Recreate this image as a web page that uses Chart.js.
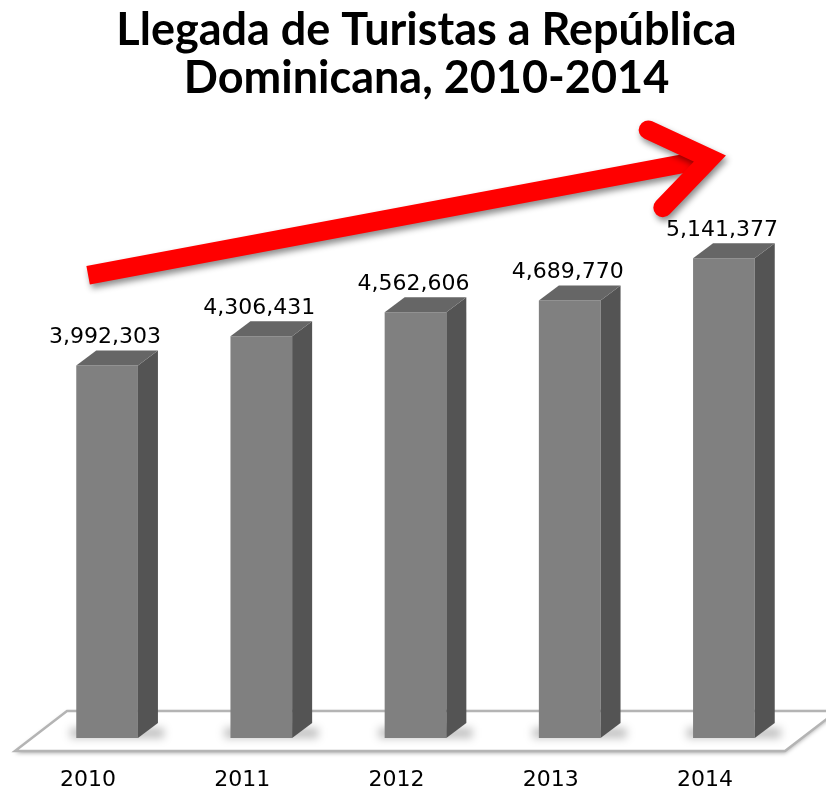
<!DOCTYPE html>
<html>
<head>
<meta charset="utf-8">
<script src="https://cdn.jsdelivr.net/npm/chart.js@4.4.1/dist/chart.umd.min.js"></script>
<style>
html,body{margin:0;padding:0;background:#fff}
#wrap{width:826px;height:789px}
</style>
</head>
<body>
<div id="wrap"><canvas id="chart"></canvas></div>
<script>
// ---------- DATA ----------
const years = ["2010","2011","2012","2013","2014"];
const arrivals = [3992303,4306431,4562606,4689770,5141377];
const titleLines = ["Llegada de Turistas a República","Dominicana, 2010-2014"];

// ---------- LOOK ----------
const frontColor = "#808080";
const sideColor = "#545454";
const topColor = "#666666";
const depthX = 20, depthY = 15;
const labelFont = "22px 'DejaVu Sans'";

function fmt(v){
    return v.toLocaleString("en-US");
}

// ---------- 3D BARS + FLOOR + ARROW ----------
const bar3d = {
    id:"bar3d",
    afterLayout(chart){
        // title sits a bit right of centre in the original
        if(chart.titleBlock){
            chart.titleBlock.left += 11;
            chart.titleBlock.right += 11;
        }
    },
    beforeDatasetsDraw(chart){
        const ctx = chart.ctx, area = chart.chartArea;
        const y0 = chart.scales.y.getPixelForValue(0);

        // floor
        const fy = y0 + 13, by = fy - 40;
        ctx.save();
        ctx.beginPath();
        ctx.moveTo(area.left - 15, fy);
        ctx.lineTo(area.right - 16, fy);
        ctx.lineTo(area.right + 36, by);
        ctx.lineTo(area.left + 37, by);
        ctx.closePath();
        ctx.shadowColor = "rgba(0,0,0,0.35)";
        ctx.shadowBlur = 4;
        ctx.shadowOffsetY = 2;
        ctx.fillStyle = "#fff";
        ctx.fill();
        ctx.shadowColor = "transparent";
        ctx.strokeStyle = "#b4b4b4";
        ctx.lineWidth = 2.5;
        ctx.stroke();

        // soft shadow under bars
        const meta = chart.getDatasetMeta(0);
        meta.data.forEach(b=>{
            const left = b.x - b.width/2, right = b.x + b.width/2;
            ctx.fillStyle = "rgba(0,0,0,0.25)";
            ctx.filter = "blur(4px)";
            ctx.fillRect(left - 6, b.base - 10, right - left + depthX + 12, 10);
            ctx.filter = "none";
        });
        ctx.restore();
    },
    afterDatasetsDraw(chart){
        const ctx = chart.ctx;
        const meta = chart.getDatasetMeta(0);
        ctx.save();
        meta.data.forEach((b,i)=>{
            const left = b.x - b.width/2, right = b.x + b.width/2;
            // side
            ctx.fillStyle = sideColor;
            ctx.beginPath();
            ctx.moveTo(right, b.y);
            ctx.lineTo(right + depthX, b.y - depthY);
            ctx.lineTo(right + depthX, b.base - depthY);
            ctx.lineTo(right, b.base);
            ctx.closePath();
            ctx.fill();
            // top
            ctx.fillStyle = topColor;
            ctx.beginPath();
            ctx.moveTo(left, b.y);
            ctx.lineTo(left + depthX, b.y - depthY);
            ctx.lineTo(right + depthX, b.y - depthY);
            ctx.lineTo(right, b.y);
            ctx.closePath();
            ctx.fill();
            // value label
            ctx.fillStyle = "#000";
            ctx.font = labelFont;
            ctx.textAlign = "center";
            ctx.textBaseline = "bottom";
            ctx.fillText(fmt(arrivals[i]), b.x - 2, b.y - depthY - 2);
        });

        // red trend arrow
        const xs = chart.scales.x, ys = chart.scales.y;
        const sx = xs.getPixelForValue(0) - 19, sy = ys.getPixelForValue(4960000);
        const tx = xs.getPixelForValue(4) - 14, ty = ys.getPixelForValue(6210000);
        const ang = Math.atan2(ty - sy, tx - sx);
        const armLen = 68;
        ctx.shadowColor = "rgba(0,0,0,0.45)";
        ctx.shadowBlur = 6;
        ctx.shadowOffsetX = 2;
        ctx.shadowOffsetY = 4;
        ctx.strokeStyle = "#ff0000";
        ctx.lineWidth = 19;
        ctx.lineCap = "butt";
        ctx.beginPath();
        ctx.moveTo(sx, sy);
        ctx.lineTo(tx - 6*Math.cos(ang), ty - 6*Math.sin(ang));
        ctx.stroke();
        ctx.lineCap = "round";
        ctx.lineJoin = "miter";
        ctx.beginPath();
        ctx.moveTo(tx + armLen*Math.cos(ang + Math.PI - 0.62), ty + armLen*Math.sin(ang + Math.PI - 0.62));
        ctx.lineTo(tx, ty);
        ctx.lineTo(tx + armLen*Math.cos(ang + Math.PI + 0.62), ty + armLen*Math.sin(ang + Math.PI + 0.62));
        ctx.stroke();
        ctx.restore();
    }
};

// ---------- CHART ----------
new Chart(document.getElementById("chart"), {
    type:"bar",
    data:{
        labels:years,
        datasets:[{
            data:arrivals,
            backgroundColor:frontColor,
            borderWidth:0,
            barPercentage:0.4,
            categoryPercentage:1
        }]
    },
    options:{
        responsive:true,
        maintainAspectRatio:false,
        animation:false,
        layout:{ padding:{ left:30, right:25, top:0, bottom:0 } },
        plugins:{
            legend:{ display:false },
            tooltip:{ enabled:false },
            title:{
                display:true,
                text:titleLines,
                color:"#000",
                font:{ family:"Lato", size:45, weight:"bold", lineHeight:1.08 },
                padding:{ top:6, bottom:75 }
            }
        },
        scales:{
            x:{
                grid:{ display:false },
                border:{ display:false },
                ticks:{ color:"#000", font:{ family:"DejaVu Sans", size:22 }, padding:21, labelOffset:-19, maxRotation:0 },
                afterFit(scale){ scale.height = 51; }
            },
            y:{
                display:false,
                min:0,
                max:6000000
            }
        }
    },
    plugins:[bar3d]
});
</script>
</body>
</html>
